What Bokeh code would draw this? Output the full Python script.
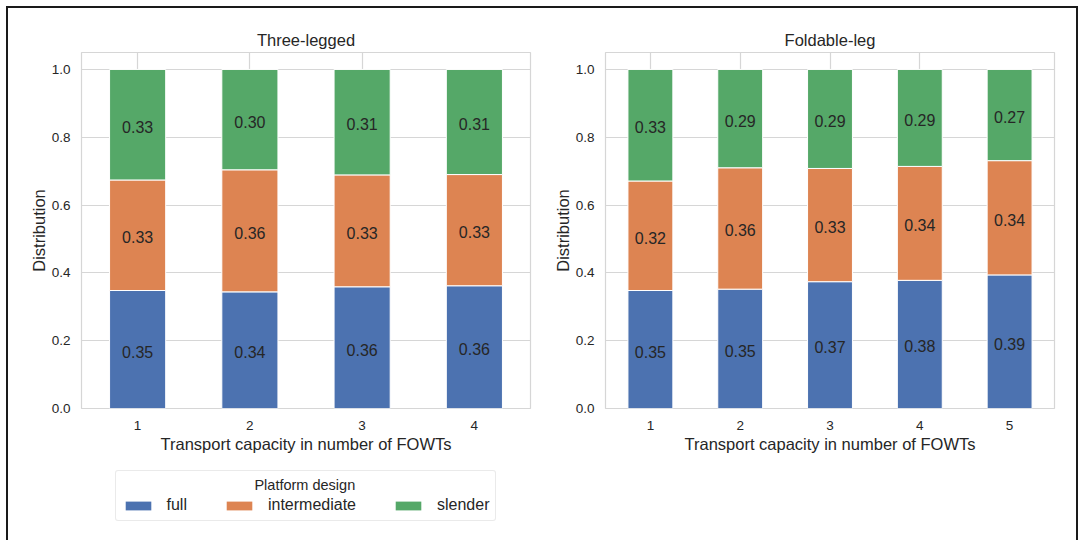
from bokeh.plotting import figure
from bokeh.models import (Legend, LegendItem, ColumnDataSource, NumeralTickFormatter,
                          FixedTicker, Range1d)
from bokeh.layouts import row, column
from bokeh.embed import file_html
from bokeh.resources import INLINE
from bokeh.core.properties import value

# ---------------- data ----------------
series_names = ["full", "intermediate", "slender"]
series_colors = ["#4C72B0", "#DD8452", "#55A868"]

three_title = "Three-legged"
three_cats = ["1", "2", "3", "4"]
three_full = [0.348, 0.344, 0.359, 0.362]
three_intermediate = [0.326, 0.360, 0.330, 0.328]
three_slender = [0.326, 0.296, 0.311, 0.310]

fold_title = "Foldable-leg"
fold_cats = ["1", "2", "3", "4", "5"]
fold_full = [0.348, 0.352, 0.374, 0.378, 0.394]
fold_intermediate = [0.323, 0.358, 0.334, 0.336, 0.337]
fold_slender = [0.329, 0.290, 0.292, 0.286, 0.269]

y_ticks = [0.0, 0.2, 0.4, 0.6, 0.8, 1.0]
x_label = "Transport capacity in number of FOWTs"
y_label = "Distribution"
legend_title = "Platform design"

FONT = "Liberation Sans"
TXT = "#262626"
GRID = "#d6d6d6"


def make_fig(title, cats, full, inter, slender, min_left, min_right, min_bottom):
    p = figure(x_range=cats, y_range=Range1d(0, 1.05),
               frame_width=449, frame_height=356,
               min_border_left=min_left, min_border_right=min_right,
               min_border_top=44, min_border_bottom=min_bottom,
               output_backend="svg", toolbar_location=None, title=title)
    p.title.align = "center"
    p.title.text_font = FONT
    p.title.text_font_size = "16.5px"
    p.title.text_font_style = "normal"
    p.title.text_color = TXT
    p.title.standoff = 7

    p.background_fill_color = "white"
    p.border_fill_color = "white"
    p.outline_line_color = GRID
    p.outline_line_width = 1.2

    for ax in (p.xaxis[0], p.yaxis[0]):
        ax.axis_line_color = None
        ax.major_tick_line_color = None
        ax.minor_tick_line_color = None
        ax.major_tick_in = 0
        ax.major_tick_out = 0
        ax.major_label_text_font = FONT
        ax.major_label_text_font_size = "13.5px"
        ax.major_label_text_color = TXT
        ax.axis_label_text_font = FONT
        ax.axis_label_text_font_size = "16.5px"
        ax.axis_label_text_font_style = "normal"
        ax.axis_label_text_color = TXT
    p.xaxis.axis_label = x_label
    p.yaxis.axis_label = y_label
    p.xaxis.major_label_standoff = 12
    p.xaxis.axis_label_standoff = 2
    p.yaxis.major_label_standoff = 11
    p.yaxis.axis_label_standoff = 1
    p.yaxis.ticker = FixedTicker(ticks=y_ticks)
    p.yaxis.formatter = NumeralTickFormatter(format="0.0")

    p.xgrid.grid_line_color = GRID
    p.ygrid.grid_line_color = GRID
    p.xgrid.grid_line_width = 1.2
    p.ygrid.grid_line_width = 1.2

    data = {"x": cats, "full": full, "intermediate": inter, "slender": slender}
    src = ColumnDataSource(data)
    p.vbar_stack(series_names, x="x", width=0.5, source=src,
                 color=series_colors, line_color="white", line_width=1)

    # labels at the centre of each segment
    bottoms = [0.0] * len(cats)
    for name in series_names:
        vals = data[name]
        ys = [b + v / 2 for b, v in zip(bottoms, vals)]
        txt = ["%.2f" % v for v in vals]
        p.text(x=cats, y=ys, text=txt, text_align="center", text_baseline="middle",
               y_offset=2, text_font=value(FONT), text_font_size="16px",
               text_color=TXT)
        bottoms = [b + v for b, v in zip(bottoms, vals)]
    return p


p1 = make_fig(three_title, three_cats, three_full, three_intermediate, three_slender,
              73, 20, 52)
p2 = make_fig(fold_title, fold_cats, fold_full, fold_intermediate, fold_slender,
              54, 22, 132)

# legend panel beneath the left chart
lf = figure(frame_width=449, frame_height=80, min_border_left=73, min_border_right=20,
            min_border_top=0, min_border_bottom=0, x_axis_location=None,
            y_axis_location=None, x_range=Range1d(0, 1), y_range=Range1d(0, 1),
            output_backend="svg", toolbar_location=None)
lf.xgrid.visible = False
lf.ygrid.visible = False
lf.outline_line_color = None
lf.background_fill_color = "white"
lf.border_fill_color = "white"
items = []
for n, c in zip(series_names, series_colors):
    # zero-size swatch renderer: only its legend entry is visible
    r = lf.vbar(x=[0.5], top=[0.0], bottom=[0.0], width=0.0, fill_color=c,
                line_color=None)
    items.append(LegendItem(label=n, renderers=[r]))
pad_title = "\u00a0" * 33 + legend_title
leg = Legend(items=items, orientation="horizontal", location="top_center",
             title=pad_title)
leg.title_text_font = FONT
leg.title_text_font_size = "14.5px"
leg.title_text_font_style = "normal"
leg.title_text_color = TXT
leg.title_standoff = 3
leg.label_text_font = FONT
leg.label_text_font_size = "16px"
leg.label_text_color = TXT
leg.glyph_width = 32
leg.glyph_height = 11
leg.label_standoff = 13
leg.spacing = 36
leg.padding = 6
leg.margin = 10
leg.border_line_color = GRID
leg.border_line_width = 1
leg.border_radius = 3
leg.background_fill_color = "white"
lf.add_layout(leg, "center")

layout = row(column(p1, lf), p2,
             styles={"margin-left": "6px", "margin-top": "6px",
                     "border-left": "2px solid #1a1a1a",
                     "border-top": "2px solid #1a1a1a",
                     "border-right": "2px solid #1a1a1a"})

open("out.html", "w").write(file_html(layout, INLINE))
